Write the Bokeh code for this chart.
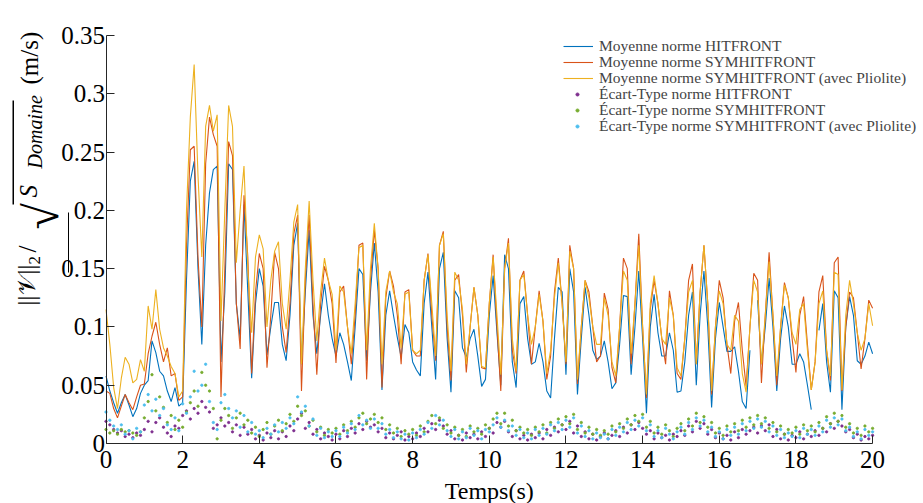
import math
from bokeh.plotting import figure
from bokeh.models import Range1d, FixedTicker, Legend, LegendItem, Label, BoxAnnotation
from bokeh.embed import file_html
from bokeh.resources import INLINE

NaN = float("nan")

# time axis (s), one sample every 0.1 s
t = [i / 10 for i in range(201)]

# Moyenne norme HITFRONT
moy_hit = [
    0.058, 0.045, 0.035, 0.026, 0.035, 0.042, 0.033, 0.023, 0.030, 0.043,
    0.050, 0.054, 0.088, 0.078, 0.062, 0.058, 0.045, 0.036, 0.048, 0.032,
    0.035, 0.140, 0.225, 0.242, 0.150, 0.085, 0.170, 0.215, 0.235, 0.238,
    0.070, 0.130, 0.240, 0.235, 0.120, 0.090, 0.205, 0.130, 0.056, 0.120,
    0.150, 0.135, 0.076, 0.100, 0.121, 0.121, 0.085, 0.071, 0.110, 0.170,
    0.189, 0.068, 0.130, 0.183, 0.110, 0.077, 0.110, 0.137, 0.110, 0.090,
    0.075, 0.095, 0.085, 0.070, 0.054, 0.100, 0.150, 0.145, 0.071, 0.130,
    0.172, 0.130, 0.046, 0.110, 0.131, 0.110, 0.091, 0.074, 0.102, 0.095,
    0.070, 0.063, 0.058, 0.120, 0.147, 0.100, 0.055, 0.150, 0.164, 0.090,
    0.044, 0.131, 0.125, 0.082, 0.074, 0.090, 0.098, 0.075, 0.049, 0.055,
    0.110, 0.144, 0.095, 0.050, 0.162, 0.150, 0.070, 0.048, 0.120, 0.126,
    0.090, 0.068, 0.070, 0.086, 0.070, 0.045, 0.039, 0.090, 0.134, 0.130,
    0.059, 0.150, 0.130, 0.042, 0.090, 0.134, 0.110, 0.080, 0.072, 0.075,
    0.088, 0.070, 0.047, 0.052, 0.085, 0.127, 0.126, 0.059, 0.100, 0.148,
    0.090, 0.026, 0.100, 0.128, 0.095, 0.075, 0.075, 0.095, 0.080, 0.044,
    0.045, 0.070, 0.110, 0.130, 0.050, 0.110, 0.148, 0.100, 0.031, 0.090,
    0.121, 0.100, 0.079, 0.079, 0.083, 0.062, 0.036, 0.030, 0.080, NaN,
    0.123, 0.068, 0.100, 0.142, 0.100, 0.045, 0.090, 0.118, 0.100, 0.068,
    0.068, 0.077, 0.070, 0.050, 0.029, NaN, 0.097, 0.120, 0.070, 0.044,
    0.131, 0.125, 0.029, 0.100, 0.126, 0.110, 0.071, 0.068, 0.075, 0.087,
    0.077,
]

# Moyenne norme SYMHITFRONT
moy_sym = [
    0.045, 0.043, 0.030, 0.022, 0.032, 0.042, 0.035, 0.029, 0.040, 0.050,
    0.051, 0.077, 0.092, 0.104, 0.085, 0.070, 0.082, 0.058, 0.060, 0.037,
    0.040, 0.170, 0.252, 0.255, 0.160, 0.100, 0.240, 0.280, 0.265, 0.255,
    0.040, 0.150, 0.259, 0.247, 0.120, 0.081, 0.213, 0.160, 0.060, 0.130,
    0.163, 0.150, 0.065, 0.110, 0.164, 0.150, 0.100, 0.078, 0.120, 0.180,
    0.196, 0.045, 0.140, 0.196, 0.120, 0.059, 0.120, 0.152, 0.140, 0.120,
    0.069, 0.130, 0.135, 0.100, 0.068, 0.110, 0.170, 0.172, 0.055, 0.140,
    0.183, 0.150, 0.048, 0.125, 0.148, 0.135, 0.110, 0.068, 0.130, 0.132,
    0.080, 0.075, 0.075, 0.140, 0.163, 0.110, 0.071, 0.170, 0.182, 0.100,
    0.054, 0.140, 0.145, 0.110, 0.061, 0.100, 0.134, 0.110, 0.065, 0.064,
    0.120, 0.162, 0.100, 0.045, 0.150, 0.176, 0.080, 0.060, 0.140, 0.148,
    0.110, 0.068, 0.100, 0.131, 0.105, 0.055, 0.075, 0.130, 0.159, 0.120,
    0.068, 0.170, 0.150, 0.051, 0.100, 0.140, 0.130, 0.100, 0.070, 0.075,
    0.129, 0.115, 0.065, 0.052, 0.100, 0.159, 0.150, 0.068, 0.120, 0.180,
    0.100, 0.039, 0.115, 0.140, 0.120, 0.090, 0.068, 0.131, 0.110, 0.060,
    0.055, 0.090, 0.140, 0.154, 0.068, 0.130, 0.170, 0.120, 0.042, 0.100,
    0.140, 0.125, 0.085, 0.060, 0.105, 0.121, 0.080, 0.049, 0.100, 0.146,
    0.140, 0.052, 0.110, 0.164, 0.110, 0.050, 0.100, 0.138, 0.125, 0.090,
    0.061, 0.110, 0.126, 0.085, 0.046, 0.070, 0.130, 0.144, 0.080, 0.054,
    0.155, 0.160, 0.045, 0.100, 0.130, 0.125, 0.095, 0.064, 0.090, 0.123,
    0.116,
]

# Moyenne norme SYMHITFRONT (avec Pliolite)
moy_plio = [
    0.115, 0.085, 0.048, 0.030, 0.056, 0.074, 0.068, 0.052, 0.055, 0.072,
    0.062, 0.118, 0.098, 0.132, 0.098, 0.082, 0.075, 0.066, 0.060, 0.040,
    0.045, 0.200, 0.280, 0.325, 0.230, 0.160, 0.272, 0.290, 0.268, 0.282,
    0.105, 0.200, 0.290, 0.272, 0.155, 0.200, 0.238, 0.150, 0.095, 0.160,
    0.179, 0.167, 0.100, 0.140, 0.165, 0.173, 0.120, 0.098, 0.140, 0.190,
    0.205, 0.068, 0.150, 0.208, 0.140, 0.088, 0.130, 0.159, 0.140, 0.128,
    0.080, 0.135, 0.130, 0.100, 0.077, 0.120, 0.168, 0.170, 0.080, 0.150,
    0.189, 0.150, 0.068, 0.130, 0.148, 0.130, 0.120, 0.082, 0.128, 0.130,
    0.080, 0.077, 0.080, 0.140, 0.162, 0.120, 0.075, 0.170, 0.180, 0.110,
    0.062, 0.147, 0.140, 0.115, 0.068, 0.100, 0.134, 0.110, 0.066, 0.065,
    0.120, 0.160, 0.110, 0.059, 0.150, 0.172, 0.090, 0.062, 0.140, 0.145,
    0.110, 0.085, 0.100, 0.128, 0.105, 0.060, 0.080, 0.125, 0.155, 0.120,
    0.070, 0.165, 0.150, 0.055, 0.100, 0.140, 0.125, 0.100, 0.085, 0.085,
    0.125, 0.110, 0.070, 0.058, 0.100, 0.148, 0.140, 0.077, 0.120, 0.170,
    0.100, 0.042, 0.120, 0.144, 0.120, 0.090, 0.085, 0.125, 0.110, 0.065,
    0.058, 0.090, 0.130, 0.140, 0.068, 0.130, 0.170, 0.120, 0.045, 0.100,
    0.131, 0.120, 0.085, 0.080, 0.110, 0.105, 0.060, 0.044, 0.100, 0.140,
    0.130, 0.068, 0.110, 0.156, 0.110, 0.058, 0.100, 0.136, 0.125, 0.095,
    0.085, 0.115, 0.120, 0.080, 0.046, 0.070, 0.120, 0.131, 0.080, 0.058,
    0.147, 0.145, 0.046, 0.110, 0.140, 0.120, 0.095, 0.080, 0.090, 0.120,
    0.101,
]

# Écart-Type norme HITFRONT
std_hit = [
    0.019, 0.016, 0.012, 0.009, 0.011, 0.006, 0.008, 0.005, 0.009, 0.007,
    0.012, 0.019, 0.010, 0.018, 0.022, 0.014, 0.009, 0.006, 0.015, 0.013,
    0.024, 0.028, 0.021, 0.030, 0.026, 0.036, 0.031, 0.027, 0.013, 0.016,
    0.022, 0.015, 0.018, 0.010, 0.016, 0.007, 0.014, 0.008, 0.012, 0.004,
    0.007, 0.003, 0.009, 0.005, 0.011, 0.004, 0.010, 0.006, 0.015, 0.011,
    0.021, 0.026, 0.013, 0.018, 0.008, 0.012, 0.004, 0.009, 0.006, 0.003,
    0.008, 0.004, 0.011, 0.006, 0.013, 0.009, 0.017, 0.012, 0.019, 0.014,
    0.016, 0.010, 0.013, 0.005, 0.009, 0.004, 0.007, 0.010, 0.003, 0.006,
    0.004, 0.009, 0.006, 0.013, 0.010, 0.017, 0.012, 0.020, 0.015, 0.008,
    0.011, 0.004, 0.007, 0.003, 0.009, 0.005, 0.008, 0.004, 0.010, 0.006,
    0.013, 0.009, 0.018, 0.014, 0.019, 0.010, 0.006, 0.011, 0.004, 0.007,
    0.003, 0.008, 0.005, 0.009, 0.004, 0.012, 0.007, 0.014, 0.010, 0.016,
    0.012, 0.019, 0.009, 0.015, 0.006, 0.010, 0.004, 0.008, 0.003, 0.006,
    0.009, 0.004, 0.007, 0.011, 0.006, 0.014, 0.009, 0.016, 0.012, 0.018,
    0.013, 0.008, 0.011, 0.004, 0.009, 0.005, 0.007, 0.003, 0.008, 0.006,
    0.011, 0.007, 0.015, 0.010, 0.019, 0.013, 0.017, 0.008, 0.012, 0.005,
    0.009, 0.004, 0.007, 0.003, 0.010, 0.005, 0.012, 0.008, 0.011, 0.014,
    0.009, 0.015, 0.011, 0.016, 0.006, 0.012, 0.004, 0.008, 0.003, 0.007,
    0.005, 0.010, 0.004, 0.008, 0.006, 0.011, 0.007, 0.013, 0.010, 0.017,
    0.013, 0.019, 0.015, 0.010, 0.012, 0.005, 0.008, 0.003, 0.006, 0.004,
    0.007,
]

# Écart-Type norme SYMHITFRONT
std_sym = [
    0.012, 0.009, 0.011, 0.008, 0.012, 0.010, 0.011, 0.009, 0.007, 0.010,
    0.022, 0.036, 0.059, 0.028, 0.040, 0.031, 0.018, 0.024, 0.012, 0.020,
    0.014, 0.027, 0.035, 0.045, 0.032, 0.061, 0.050, 0.045, 0.030, 0.004,
    0.020, 0.030, 0.024, 0.013, 0.022, 0.026, 0.016, 0.020, 0.009, 0.014,
    0.006, 0.012, 0.018, 0.008, 0.015, 0.020, 0.011, 0.017, 0.025, 0.019,
    0.032, 0.024, 0.028, 0.015, 0.020, 0.010, 0.014, 0.007, 0.012, 0.009,
    0.013, 0.008, 0.016, 0.011, 0.019, 0.014, 0.022, 0.026, 0.017, 0.021,
    0.025, 0.018, 0.022, 0.012, 0.016, 0.009, 0.013, 0.006, 0.011, 0.008,
    0.012, 0.007, 0.015, 0.010, 0.019, 0.024, 0.017, 0.022, 0.013, 0.016,
    0.009, 0.014, 0.007, 0.012, 0.006, 0.015, 0.010, 0.013, 0.008, 0.016,
    0.013, 0.021, 0.026, 0.017, 0.026, 0.015, 0.020, 0.011, 0.014, 0.009,
    0.012, 0.007, 0.014, 0.010, 0.016, 0.009, 0.018, 0.013, 0.021, 0.016,
    0.023, 0.017, 0.025, 0.012, 0.018, 0.009, 0.014, 0.008, 0.012, 0.007,
    0.011, 0.008, 0.015, 0.010, 0.017, 0.013, 0.021, 0.016, 0.024, 0.019,
    0.025, 0.014, 0.019, 0.009, 0.014, 0.008, 0.016, 0.011, 0.006, 0.013,
    0.017, 0.011, 0.021, 0.015, 0.026, 0.018, 0.023, 0.014, 0.018, 0.009,
    0.013, 0.007, 0.015, 0.010, 0.017, 0.011, 0.020, 0.014, 0.022, 0.016,
    0.024, 0.017, 0.022, 0.013, 0.018, 0.010, 0.015, 0.008, 0.012, 0.009,
    0.014, 0.008, 0.016, 0.011, 0.015, 0.010, 0.018, 0.013, 0.023, 0.017,
    0.026, 0.019, 0.024, 0.014, 0.017, 0.009, 0.013, 0.007, 0.015, 0.010,
    0.013,
]

# Écart-Type norme SYMHITFRONT (avec Pliolite)
std_plio = [
    0.027, 0.020, 0.015, 0.012, 0.016, 0.008, 0.011, 0.004, 0.013, 0.010,
    0.033, 0.042, 0.028, 0.038, 0.024, 0.030, 0.016, 0.012, 0.022, 0.011,
    0.034, 0.026, 0.040, 0.062, 0.045, 0.050, 0.068, 0.036, 0.018, 0.012,
    0.035, 0.042, 0.030, 0.022, 0.028, 0.014, 0.024, 0.010, 0.018, 0.008,
    0.011, 0.005, 0.013, 0.008, 0.016, 0.010, 0.018, 0.013, 0.022, 0.017,
    0.040, 0.027, 0.032, 0.015, 0.021, 0.007, 0.013, 0.005, 0.010, 0.006,
    0.011, 0.006, 0.014, 0.009, 0.017, 0.012, 0.024, 0.016, 0.020, 0.013,
    0.021, 0.013, 0.017, 0.008, 0.012, 0.005, 0.010, 0.004, 0.008, 0.003,
    0.009, 0.005, 0.012, 0.008, 0.018, 0.013, 0.024, 0.016, 0.020, 0.011,
    0.006, 0.012, 0.004, 0.010, 0.005, 0.013, 0.007, 0.011, 0.004, 0.012,
    0.010, 0.016, 0.022, 0.014, 0.020, 0.011, 0.015, 0.007, 0.012, 0.005,
    0.009, 0.004, 0.012, 0.007, 0.013, 0.008, 0.016, 0.011, 0.018, 0.012,
    0.020, 0.014, 0.022, 0.009, 0.015, 0.006, 0.011, 0.004, 0.009, 0.005,
    0.008, 0.004, 0.012, 0.007, 0.014, 0.010, 0.018, 0.012, 0.020, 0.015,
    0.022, 0.011, 0.016, 0.006, 0.011, 0.005, 0.013, 0.008, 0.004, 0.010,
    0.014, 0.008, 0.018, 0.012, 0.022, 0.015, 0.020, 0.010, 0.014, 0.006,
    0.010, 0.004, 0.012, 0.007, 0.014, 0.008, 0.017, 0.011, 0.019, 0.013,
    0.021, 0.014, 0.019, 0.010, 0.015, 0.007, 0.012, 0.005, 0.009, 0.006,
    0.011, 0.005, 0.013, 0.008, 0.012, 0.007, 0.015, 0.010, 0.020, 0.014,
    0.022, 0.016, 0.021, 0.011, 0.014, 0.006, 0.010, 0.004, 0.012, 0.007,
    0.010,
]

labels = [
    "Moyenne norme HITFRONT",
    "Moyenne norme SYMHITFRONT",
    "Moyenne norme SYMHITFRONT (avec Pliolite)",
    "Écart-Type norme HITFRONT",
    "Écart-Type norme SYMHITFRONT",
    "Écart-Type norme SYMHITFRONT (avec Pliolite)",
]
line_colors = ["#0072BD", "#D95319", "#EDB120"]
dot_colors = ["#7E2F8E", "#77AC30", "#4DBEEE"]

x_ticks = [0, 2, 4, 6, 8, 10, 12, 14, 16, 18, 20]
x_tick_labels = ["0", "2", "4", "6", "8", "10", "12", "14", "16", "18", "20"]
y_ticks = [0, 0.05, 0.1, 0.15, 0.2, 0.25, 0.3, 0.35]
y_tick_labels = ["0", "0.05", "0.1", "0.15", "0.2", "0.25", "0.3", "0.35"]

SERIF = "Liberation Serif"
AXC = "#262626"
W, H = 923, 503
# pixel geometry of the axes box inside the page
X0, XPX = 105.5, 38.33        # x=0 position, px per second
Y0, YPX = 443.0, 408.0 / 0.35  # y=0 position, px per m/s

p = figure(width=W, height=H,
           x_range=Range1d(-X0 / XPX, (W - X0) / XPX),
           y_range=Range1d(-(H - Y0) / YPX, Y0 / YPX),
           output_backend="svg", toolbar_location=None,
           min_border_left=0, min_border_right=0, min_border_top=0, min_border_bottom=0)
p.xgrid.visible = False
p.ygrid.visible = False
p.outline_line_color = None
p.background_fill_color = "white"
p.border_fill_color = "white"

p.xaxis.ticker = FixedTicker(ticks=x_ticks)
p.xaxis.major_label_overrides = dict(zip(x_ticks, x_tick_labels))
p.yaxis.ticker = FixedTicker(ticks=y_ticks)
p.yaxis.major_label_overrides = dict(zip(y_ticks, y_tick_labels))
p.xaxis.fixed_location = 0
p.yaxis.fixed_location = 0
p.xaxis.bounds = (0, 20)
p.yaxis.bounds = (0, 0.35)
for ax in (p.xaxis[0], p.yaxis[0]):
    ax.major_tick_in = 8
    ax.major_tick_out = 0
    ax.minor_tick_in = 0
    ax.minor_tick_out = 0
    ax.axis_line_color = AXC
    ax.major_tick_line_color = AXC
    ax.major_label_text_font = SERIF
    ax.major_label_text_font_size = "25px"
    ax.major_label_text_color = "#000000"
p.yaxis.major_label_standoff = 1
p.xaxis.major_label_standoff = 7

series = [moy_hit, moy_sym, moy_plio]
line_r = [p.line(t, s, line_color=c, line_width=1.1) for s, c in zip(series, line_colors)]
dots = [std_hit, std_sym, std_plio]
dot_r = [p.scatter(t, s, marker="circle", size=2.4, fill_color=c, line_color=c, line_width=0.8)
         for s, c in zip(dots, dot_colors)]

# legend: one row per entry, row centres in page px
centers = [47, 63, 79, 95, 111, 127]
for i, (lab, r, yc) in enumerate(zip(labels, line_r + dot_r, centers)):
    is_line = i < 3
    lg = Legend(items=[LegendItem(label=lab, renderers=[r])],
                location=(563 if is_line else 573, H - yc - 8),
                label_text_font=SERIF, label_text_font_size="15.5px",
                glyph_width=30 if is_line else 8, glyph_height=16, label_height=16,
                label_standoff=6 if is_line else 18, padding=0, margin=0, spacing=0,
                border_line_color=None, background_fill_alpha=0)
    p.add_layout(lg)


# y-axis label built from pieces (rotated), positions in page px
def rlabel(text, px, py, size, style="normal", font=SERIF, baseline="middle"):
    p.add_layout(Label(x=px, y=H - py, x_units="screen", y_units="screen", text=text,
                       angle=math.pi / 2, text_align="left", text_baseline=baseline,
                       text_font=font, text_font_size=size, text_font_style=style,
                       text_color="black"))


rlabel("||𝒱||", 26, 305, "25px")
rlabel("2", 34, 264, "17px")
rlabel("/", 27, 252, "25px")
rlabel("√", 41, 229, "48px", baseline="alphabetic")
rlabel("S", 28, 197, "25px", "italic")
rlabel("Domaine", 34, 168, "20px", "italic")
rlabel("(m/s)", 29, 84, "25px")


def vbar_screen(x_left, x_right, y_top, y_bottom):
    p.add_layout(BoxAnnotation(left=x_left, right=x_right, bottom=H - y_bottom, top=H - y_top,
                               left_units="screen", right_units="screen",
                               top_units="screen", bottom_units="screen",
                               fill_color="black", fill_alpha=1, line_color=None))


vbar_screen(12, 13.5, 100, 204)
vbar_screen(67.5, 68.5, 212, 272)

p.add_layout(Label(x=X0 + 10 * XPX, y=13, x_units="screen", y_units="screen", text="Temps(s)",
                   text_align="center", text_baseline="alphabetic",
                   text_font=SERIF, text_font_size="24px", text_color="black"))

open("out.html", "w").write(file_html(p, INLINE))
